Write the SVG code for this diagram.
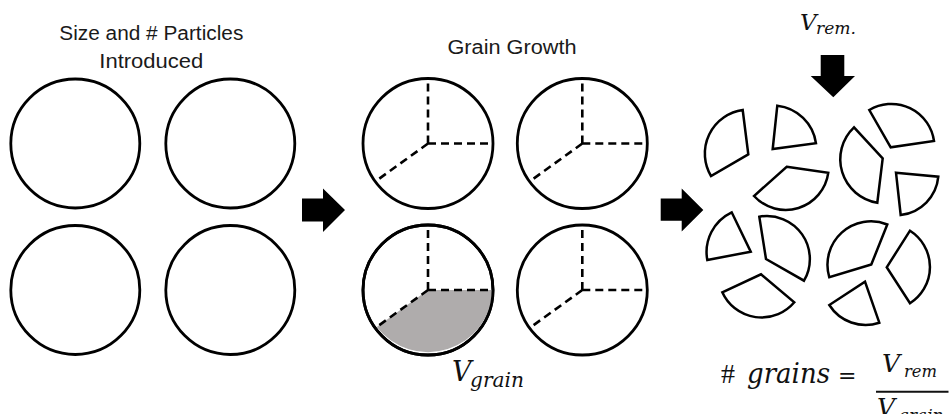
<svg xmlns="http://www.w3.org/2000/svg" width="949" height="414" viewBox="0 0 949 414">
<style>
.title{font-family:"Liberation Sans",Arial,sans-serif;font-size:20px;fill:#1a1a1a;text-anchor:middle}
.circ{fill:#fff;stroke:#000;stroke-width:2.8}
.dash{fill:none;stroke:#000;stroke-width:2.6;stroke-dasharray:8 5}
.frag{fill:#fff;stroke:#000;stroke-width:2.5;stroke-linejoin:miter}
.arrow{fill:#000}
.m{font-family:"DejaVu Serif",serif;font-style:italic;fill:#111}
.u{font-family:"DejaVu Serif",serif;fill:#111}
</style>
<g id="titles">
<text class="title" x="151.3" y="40" textLength="184" lengthAdjust="spacingAndGlyphs">Size and # Particles</text>
<text class="title" x="151.3" y="68" textLength="104" lengthAdjust="spacingAndGlyphs">Introduced</text>
<text class="title" x="512" y="54" textLength="129" lengthAdjust="spacingAndGlyphs">Grain Growth</text>
</g>
<g id="particles">
<circle class="circ" cx="75.3" cy="143.5" r="64.5"/>
<circle class="circ" cx="230.3" cy="143.5" r="64.5"/>
<circle class="circ" cx="75.3" cy="290" r="64.5"/>
<circle class="circ" cx="230.3" cy="290" r="64.5"/>
</g>
<g id="grains">
<g id="grain-tl">
<circle class="circ" cx="428" cy="143.5" r="65"/>
<path class="dash" d="M428,143.5 V78.5 M428,143.5 H493 M428,143.5 L376.7,180.5"/>
</g>
<g id="grain-tr">
<circle class="circ" cx="582.3" cy="143.5" r="65"/>
<path class="dash" d="M582.3,143.5 V78.5 M582.3,143.5 H647.3 M582.3,143.5 L531,180.5"/>
</g>
<g id="grain-bl">
<circle class="circ" cx="428" cy="290" r="65"/>
<path d="M428,290 L493,290 A65,65 0 0 1 376.7,327 Z" fill="#afacac"/>
<circle cx="428" cy="290" r="65" fill="none" stroke="#000" stroke-width="2.8"/>
<path class="dash" d="M428,290 V225 M428,290 H493 M428,290 L376.7,327"/>
</g>
<g id="grain-br">
<circle class="circ" cx="582.3" cy="290" r="65"/>
<path class="dash" d="M582.3,290 V225 M582.3,290 H647.3 M582.3,290 L531,327"/>
</g>
</g>
<g id="connectors">
<polygon class="arrow" points="302,198.5 323,198.5 323,188.5 345,210 323,232 323,221.5 302,221.5"/>
<polygon class="arrow" points="660.7,198.5 681.7,198.5 681.7,188.5 703.3,210 681.7,231.5 681.7,220.7 660.7,220.7"/>
<polygon class="arrow" points="820.7,55 844.3,55 844.3,76 855,76 833.3,97.3 810.7,76 820.7,76"/>
</g>
<g id="fragments">
<path class="frag" d="M748.3,154.3 L711,176 A44,44 0 0 1 742.7,110 Z"/>
<path class="frag" d="M772.7,149 L777.3,105.7 A44,44 0 0 1 816,143.3 Z"/>
<path class="frag" d="M786.7,166.7 L828.3,172.7 A43,43 0 0 1 754,196 Z"/>
<path class="frag" d="M750.7,251.7 L707.3,260 A44,44 0 0 1 731.7,212.3 Z"/>
<path class="frag" d="M766,259 L759.3,216.7 A43,43 0 0 1 804,280.7 Z"/>
<path class="frag" d="M761,274.3 L794.3,302.3 A43,43 0 0 1 722.3,292.3 Z"/>
<path class="frag" d="M890.7,147.3 L869.3,110 A43,43 0 0 1 934,141 Z"/>
<path class="frag" d="M882.7,158.3 L877.3,202.7 A44,44 0 0 1 854,127.3 Z"/>
<path class="frag" d="M896,172.7 L938.3,176.7 A42.5,42.5 0 0 1 900.7,215 Z"/>
<path class="frag" d="M871.3,264.5 L829.3,277.3 A43.5,43.5 0 0 1 887.3,224.5 Z"/>
<path class="frag" d="M886.7,267.3 L910,230.7 A43,43 0 0 1 910,303.3 Z"/>
<path class="frag" d="M865,281.7 L879.3,322.7 A43,43 0 0 1 829.3,305 Z"/>
</g>
<g id="labels">
<text class="m" x="452" y="381" font-size="27">V</text>
<text class="m" x="470" y="387" font-size="21" textLength="54" lengthAdjust="spacingAndGlyphs">grain</text>
<text class="m" x="800" y="29.5" font-size="23">V</text>
<text class="m" x="816" y="34" font-size="17" textLength="40" lengthAdjust="spacingAndGlyphs">rem.</text>
<text x="721" y="383" font-family="Liberation Serif,serif" font-size="28" fill="#111">#</text>
<text class="m" x="747" y="383" font-size="27" textLength="83" lengthAdjust="spacingAndGlyphs">grains</text>
<text class="u" x="838" y="383" font-size="22">=</text>
<text class="m" x="882" y="372" font-size="25">V</text>
<text class="m" x="904" y="377" font-size="16" textLength="33" lengthAdjust="spacingAndGlyphs">rem</text>
<line x1="876" y1="391.7" x2="948.5" y2="391.7" stroke="#111" stroke-width="2"/>
<text class="m" x="877" y="416" font-size="25">V</text>
<text class="m" x="898" y="421" font-size="17">grain</text>
</g>
</svg>
